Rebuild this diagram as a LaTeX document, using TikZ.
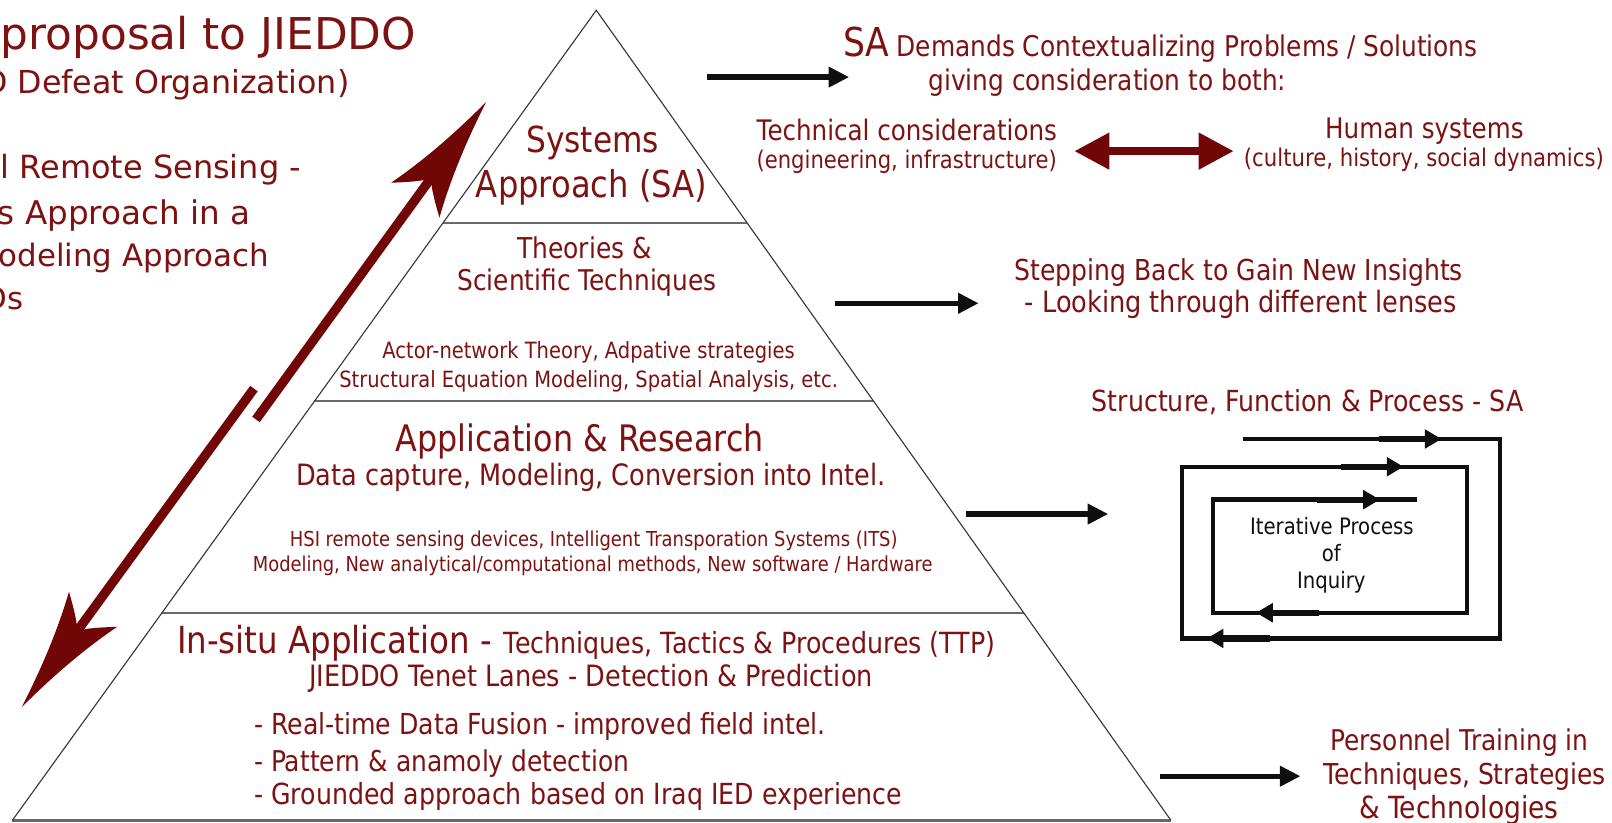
\documentclass[tikz,border=0pt]{standalone}
\usepackage{fontspec}
\usepackage{graphicx}
\setmainfont{DejaVu Sans}
\newfontfamily\cond[FakeStretch=0.87]{DejaVu Sans}
\usetikzlibrary{arrows.meta,calc}

\definecolor{tred}{RGB}{125,18,18}
\definecolor{ared}{RGB}{112,6,6}
\definecolor{ink}{RGB}{15,15,15}
\definecolor{rule}{RGB}{105,105,105}

% scale a piece of text to a given width (in pt)
\newcommand{\fitto}[2]{\resizebox{#1pt}{!}{#2}}

% barbed arrow head, tip at the local origin, pointing along +x
\newcommand{\barbhead}{%
  (0,0) .. controls (-45,7) and (-85,17) .. (-118,29)
  .. controls (-108,16) and (-101,8) .. (-97,4.5)
  -- (-97,-4.5)
  .. controls (-101,-8) and (-108,-16) .. (-118,-29)
  .. controls (-85,-17) and (-45,-7) .. (0,0) -- cycle}

\begin{document}
\begin{tikzpicture}[x=1pt,y=-1pt,
  txt/.style={text=tred, inner sep=0pt, anchor=base, font=\cond},
  lefttxt/.style={text=tred, inner sep=0pt, anchor=base east, font=\normalfont},
  inktxt/.style={text=ink, inner sep=0pt, anchor=base, font=\cond\fontsize{22}{22}\selectfont},
  side/.style={draw=black!78, line width=1.1pt},
  divider/.style={draw=rule, line width=2.3pt},
  blackarrow/.style={draw=ink, line width=5.2pt, -{Triangle[length=20pt,width=19pt]}},
  redboth/.style={draw=ared, line width=7.5pt,
    {Triangle[length=34pt,width=34pt]}-{Triangle[length=34pt,width=34pt]}},
  bigshaft/.style={draw=ared, line width=9pt},
  loopline/.style={draw=ink, line width=4.2pt, line join=miter},
  loopthick/.style={draw=ink, line width=6pt}]

\path[use as bounding box] (0,0) rectangle (1568,800);
\clip (0,0) rectangle (1568,800);
\fill[white] (0,0) rectangle (1568,800);

% ---------------- pyramid ----------------
\coordinate (apex) at (580,10);
\coordinate (bl) at (12,798);
\coordinate (br) at (1139,798);

\draw[divider] ($(apex)!0.2627!(bl)$) -- ($(apex)!0.2627!(br)$);
\draw[divider] ($(apex)!0.4822!(bl)$) -- ($(apex)!0.4822!(br)$);
\draw[divider] ($(apex)!0.7437!(bl)$) -- ($(apex)!0.7437!(br)$);
\draw[divider] (bl) -- (br);
\draw[side] (bl) -- (apex) -- (br);

% tier 1
\node[txt] (sys1) at (576.5,148) {\fitto{129}{Systems}};
\node[txt] (sys2) at (575.5,192) {\fitto{225}{Approach (SA)}};
% tier 2
\node[txt] (th1) at (568.5,251) {\fitto{131}{Theories \&}};
\node[txt] (th2) at (571,283) {\fitto{252}{Scientific Techniques}};
\node[txt] (th3) at (572.5,349) {\fitto{401}{Actor-network Theory, Adpative strategies}};
\node[txt] (th4) at (572.5,377) {\fitto{485}{Structural Equation Modeling, Spatial Analysis, etc.}};
% tier 3
\node[txt] (ap1) at (564,439) {\fitto{358}{Application \& Research}};
\node[txt] (ap2) at (574.5,472) {\fitto{573}{Data capture, Modeling, Conversion into Intel.}};
\node[txt] (ap3) at (577.5,532) {\fitto{591}{HSI remote sensing devices, Intelligent Transporation Systems (ITS)}};
\node[txt] (ap4) at (576.5,556) {\fitto{661}{Modeling, New analytical/computational methods, New software / Hardware}};
% tier 4
\node[txt, anchor=base west] (is1) at (172,636) {\fitto{306}{In-situ Application -}};
\node[txt, anchor=base west] (is2) at (490,636) {\fitto{478}{Techniques, Tactics \& Procedures (TTP)}};
\node[txt] (is3) at (575,668) {\fitto{548}{JIEDDO Tenet Lanes - Detection \& Prediction}};
\node[txt, anchor=base west] (is4) at (247,714) {\fitto{556}{- Real-time Data Fusion - improved field intel.}};
\node[txt, anchor=base west] (is5) at (247,750) {\fitto{365}{- Pattern \& anamoly detection}};
\node[txt, anchor=base west] (is6) at (247,783) {\fitto{630}{- Grounded approach based on Iraq IED experience}};

% ---------------- left column ----------------
\node[lefttxt] (l1) at (405,48) {\fitto{404}{proposal to JIEDDO}};
\node[lefttxt] (l2) at (340,91) {\fitto{356}{D Defeat Organization)}};
\node[lefttxt] (l3) at (293,174) {\fitto{292}{l Remote Sensing -}};
\node[lefttxt] (l4) at (244,218) {\fitto{246}{s Approach in a}};
\node[lefttxt] (l5) at (262,259) {\fitto{263}{odeling Approach}};
\node[lefttxt, font=\normalfont\fontsize{30}{30}\selectfont] (l6) at (23,301) {Ds};

% ---------------- big red arrows ----------------
\coordinate (upTail) at (249,408);
\coordinate (upTip) at (473,99);
\coordinate (dnTail) at (247,378);
\coordinate (dnTip) at (21,688);
\draw[bigshaft] (upTail) -- ($(upTip)!95pt!(upTail)$);
\draw[bigshaft] (dnTail) -- ($(dnTip)!95pt!(dnTail)$);
\begin{scope}[shift={(upTip)}, rotate=54.18]
  \fill[ared] \barbhead;
\end{scope}
\begin{scope}[shift={(dnTip)}, rotate=233.9]
  \fill[ared] \barbhead;
\end{scope}

% ---------------- right side texts ----------------
\node[txt, anchor=base west] (sa1) at (820,55) {\fitto{45}{SA}};
\node[txt, anchor=base west] (sa2) at (872,55) {\fitto{565}{Demands Contextualizing Problems / Solutions}};
\node[txt] (sa3) at (1077,88) {\fitto{348}{giving consideration to both:}};
\node[txt] (tc1) at (882,137) {\fitto{292}{Technical considerations}};
\node[txt] (tc2) at (882,164) {\fitto{292}{(engineering, infrastructure)}};
\node[txt] (hs1) at (1385.5,135) {\fitto{193}{Human systems}};
\node[txt] (hs2) at (1385,162) {\fitto{350}{(culture, history, social dynamics)}};
\node[txt] (sb1) at (1205,273) {\fitto{436}{Stepping Back to Gain New Insights}};
\node[txt] (sb2) at (1207,304) {\fitto{420}{- Looking through different lenses}};
\node[txt] (sf1) at (1272,400) {\fitto{420}{Structure, Function \& Process - SA}};
\node[txt] (pt1) at (1419.5,730) {\fitto{251}{Personnel Training in}};
\node[txt] (pt2) at (1424.5,763) {\fitto{275}{Techniques, Strategies}};
\node[txt] (pt3) at (1419,796) {\fitto{194}{\& Technologies}};

% ---------------- black arrows ----------------
\coordinate (a1s) at (688,75);   \coordinate (a1e) at (826,75);
\coordinate (a2s) at (812,295);  \coordinate (a2e) at (952,295);
\coordinate (a3s) at (940,500);  \coordinate (a3e) at (1078,500);
\coordinate (a4s) at (1128,755); \coordinate (a4e) at (1265,755);
\draw[blackarrow] (a1s) -- (a1e);
\draw[blackarrow] (a2s) -- (a2e);
\draw[blackarrow] (a3s) -- (a3e);
\draw[blackarrow] (a4s) -- (a4e);

% double arrow between the two kinds of consideration
\coordinate (dbl) at (1045,147);
\coordinate (dbr) at (1200,147);
\draw[redboth] (dbl) -- (dbr);

% ---------------- iterative loop ----------------
\coordinate (s0) at (1209,427);
\coordinate (c1) at (1459,427);
\coordinate (c2) at (1459,621);
\coordinate (c3) at (1150,621);
\coordinate (c4) at (1150,454);
\coordinate (c5) at (1427,454);
\coordinate (c6) at (1427,596);
\coordinate (c7) at (1180,596);
\coordinate (c8) at (1180,486);
\coordinate (s9) at (1378,486);
\draw[loopline] (s0) -- (c1) -- (c2) -- (c3) -- (c4) -- (c5) -- (c6) -- (c7) -- (c8) -- (s9);

% heads along the loop (right / left pointing) with a heavier lead-in
\foreach \tx/\ty in {1402/427, 1365/454, 1342/486}{
  \draw[loopthick] (\tx-61,\ty) -- (\tx-15,\ty);
  \fill[ink] (\tx,\ty) -- (\tx-16,\ty-9.5) -- (\tx-16,\ty+9.5) -- cycle;
}
\foreach \tx/\ty in {1222/596, 1174/621}{
  \draw[loopthick] (\tx+61,\ty) -- (\tx+15,\ty);
  \fill[ink] (\tx,\ty) -- (\tx+16,\ty-9.5) -- (\tx+16,\ty+9.5) -- cycle;
}

\node[inktxt] (ip1) at (1295.5,520) {Iterative Process};
\node[inktxt] (ip2) at (1295,546) {of};
\node[inktxt] (ip3) at (1295,572) {Inquiry};

\end{tikzpicture}
\end{document}
